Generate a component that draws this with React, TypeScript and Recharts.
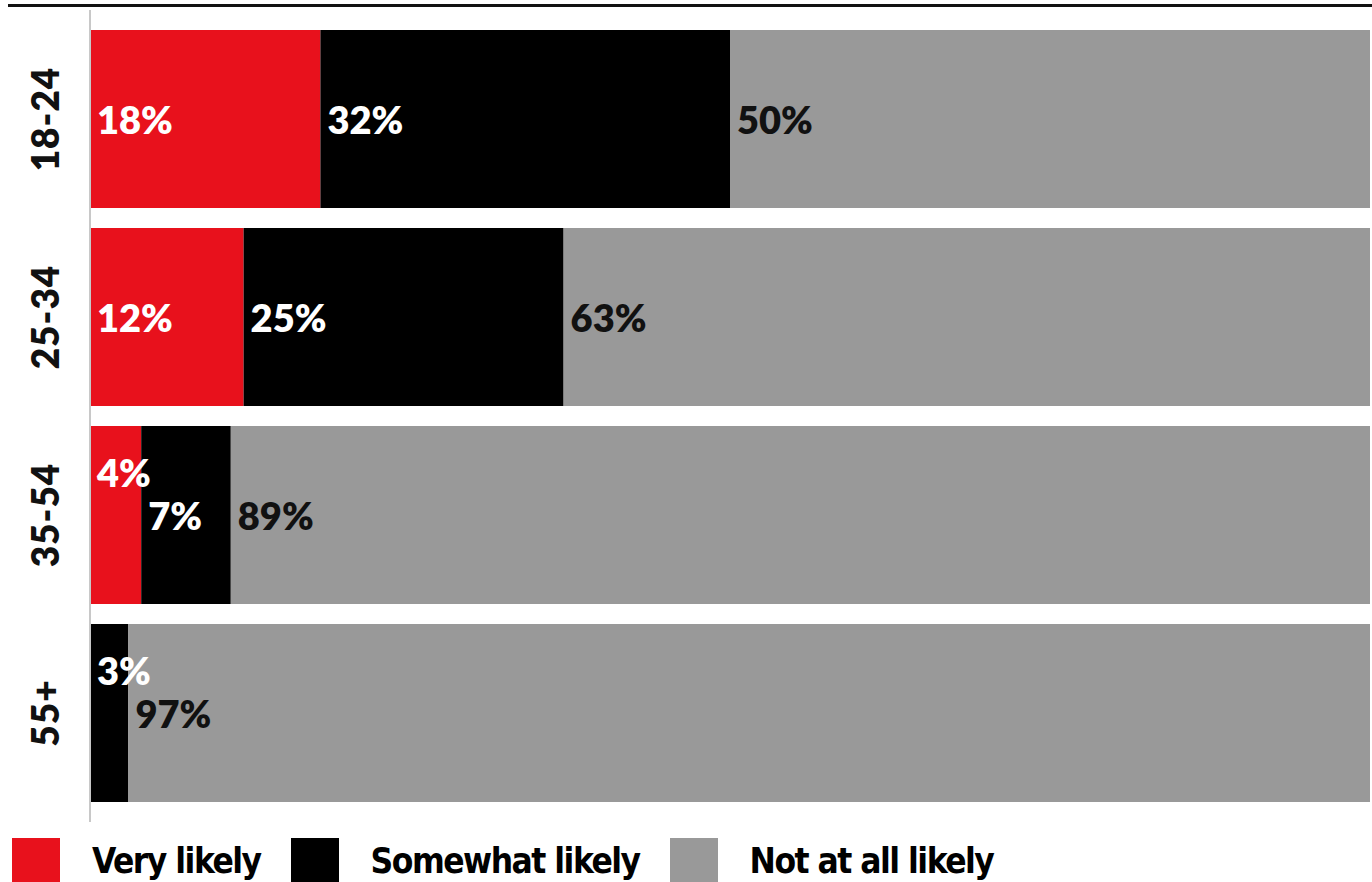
import { BarChart, Bar, XAxis, YAxis, LabelList } from "recharts";

const AGES = ["18-24", "25-34", "35-54", "55+"];
const VERY = [18, 12, 4, 0];
const SOMEWHAT = [32, 25, 7, 3];
const NOT_AT_ALL = [50, 63, 89, 97];

const SERIES = [
  { key: "very", name: "Very likely", fill: "#e8111c", text: "#ffffff" },
  { key: "somewhat", name: "Somewhat likely", fill: "#000000", text: "#ffffff" },
  { key: "notAtAll", name: "Not at all likely", fill: "#999999", text: "#111111" },
];

const data = AGES.map((age, i) => ({ age, very: VERY[i], somewhat: SOMEWHAT[i], notAtAll: NOT_AT_ALL[i] }));

const LABEL_FONT = "Lato, 'Open Sans', sans-serif";
const LEGEND_FONT = "'Liberation Sans Narrow', 'DejaVu Sans', sans-serif";

function segLabel(color: string) {
  return (p: any) => {
    const { x, y, width, height, value } = p;
    if (!value) return null;
    // narrow segments push their label up so it doesn't collide with the next one
    const dy = width < 60 ? -43 : 0;
    return (
      <text x={x + 7} y={y + height / 2 + dy} fill={color} fontSize={38} fontWeight={800}
        fontFamily={LABEL_FONT} dominantBaseline="central">
        {value}%
      </text>
    );
  };
}

function AgeTick({ y, payload }: any) {
  return (
    <g transform={`translate(44, ${y}) rotate(-90)`}>
      <text textAnchor="middle" dominantBaseline="central" fontSize={37} fontWeight={800}
        fontFamily={LABEL_FONT} fill="#111" letterSpacing={1}>
        {payload.value}
      </text>
    </g>
  );
}

export default function App() {
  return (
    <div style={{ position: "absolute", left: 0, top: 0, width: 1372, height: 882, overflow: "hidden", background: "#fff" }}>
      <BarChart width={1380} height={882} data={data} layout="vertical" barCategoryGap={10}
        margin={{ top: 10, right: 10, bottom: 60, left: 0 }}>
        <XAxis type="number" domain={[0, 100]} hide />
        <YAxis type="category" dataKey="age" width={90} tickLine={false} tick={<AgeTick />}
          axisLine={{ stroke: "#c8c8c8", strokeWidth: 2 }} padding={{ top: 10, bottom: 10 }} />
        {SERIES.map((s) => (
          <Bar key={s.key} dataKey={s.key} stackId="a" fill={s.fill} isAnimationActive={false}>
            <LabelList dataKey={s.key} content={segLabel(s.text)} />
          </Bar>
        ))}
      </BarChart>
      <div style={{ position: "absolute", top: 4, left: 8, right: 0, height: 3, background: "#111", zIndex: 2 }} />
      <div style={{ position: "absolute", top: 838, left: 12, display: "flex", alignItems: "flex-start", zIndex: 2 }}>
        {SERIES.map((s) => (
          <div key={s.key} style={{ display: "flex", alignItems: "flex-start", marginRight: 30 }}>
            <div style={{ width: 48, height: 48, background: s.fill }} />
            <span style={{ marginLeft: 32, marginTop: 6, fontFamily: LEGEND_FONT, fontStretch: "condensed", fontWeight: 700,
              fontSize: 35, lineHeight: 1, letterSpacing: -1.5, color: "#000" }}>
              {s.name}
            </span>
          </div>
        ))}
      </div>
    </div>
  );
}
